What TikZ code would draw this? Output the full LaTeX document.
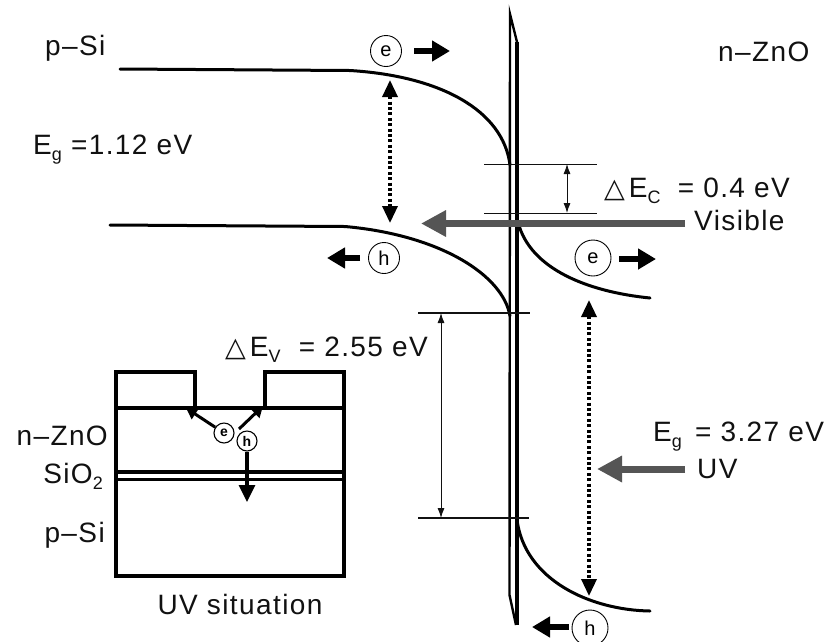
\documentclass[tikz,border=0pt]{standalone}
\usepackage{fontspec}
\setmainfont[LetterSpace=5]{Liberation Sans}
\newfontfamily\symfont{DejaVu Sans}
\usetikzlibrary{arrows.meta}
\definecolor{arrowgray}{HTML}{555555}
\definecolor{inkblack}{HTML}{111111}
\newcommand{\tri}{{\symfont\fontsize{27}{27}\selectfont △}\kern4pt}
\newcommand{\lowsub}[1]{\raisebox{-6pt}{\fontsize{18}{18}\selectfont #1}}
\newcommand{\gapfill}[1]{\kern#1\relax\ }
\tikzset{
  x=1pt,y=-1pt,
  lab/.style={inner sep=0pt,text=inkblack,font=\fontsize{28}{30}\selectfont},
  band/.style={draw=black,line width=3pt,line cap=round},
  thinline/.style={draw=inkblack,line width=0.9pt},
  dim/.style={draw=inkblack,line width=0.9pt,{Latex[length=10pt,width=7pt]}-{Latex[length=10pt,width=7pt]}},
  dotarrow/.style={draw=black,line width=3.4pt,dash pattern=on 3pt off 2.4pt,
    {Triangle[length=17pt,width=15pt,sep=0pt]}-{Triangle[length=17pt,width=15pt,sep=0pt]}},
  carrier/.style={circle,draw=black,line width=0.9pt,fill=white,inner sep=0pt,font=\fontsize{20}{20}\selectfont},
  bigc/.style={carrier,minimum size=36pt},
  midc/.style={carrier,minimum size=31pt},
  smallc/.style={carrier,minimum size=20pt,line width=1.1pt,font=\fontsize{14}{14}\selectfont\bfseries},
  move/.style={draw=black,line width=5.5pt,-{Triangle[length=18pt,width=20pt,sep=0pt]}},
  light/.style={draw=arrowgray,line width=7pt,-{Triangle[length=25pt,width=25pt,sep=0pt]}},
  device/.style={draw=black,line width=3.4pt},
  tiny/.style={draw=black,line width=3pt,-{Triangle[length=11pt,width=12pt,sep=0pt]}},
  hole/.style={draw=black,line width=3.2pt,-{Triangle[length=17pt,width=16pt,sep=0pt]}},
}
\begin{document}
\begin{tikzpicture}
\useasboundingbox[fill=white] (0,0) rectangle (829,641);

% band edges
\draw[band] (120,69) -- (350,70.5) .. controls (440,76) and (503,110) .. (510,165);
\draw[band] (110,225) -- (345,226.5) .. controls (440,235) and (503,275) .. (510,316);
\draw[band] (518,222) .. controls (530,270) and (590,292) .. (650,298);
\draw[band] (517,520) .. controls (525,580) and (590,610) .. (650,611);

% interface layer
\draw[draw=black,line width=2.4pt] (517,42) -- (510,14) -- (509.5,595) -- (516,625);
\draw[draw=black,line width=4.4pt] (517,42) -- (517,625);

% offsets
\coordinate (cbl) at (484,164); \coordinate (cbr) at (597,164);
\coordinate (cal) at (484,213); \coordinate (car) at (597,213);
\coordinate (cu) at (567,164); \coordinate (cd) at (567,213);
\draw[thinline] (cbl) -- (cbr);
\draw[thinline] (cal) -- (car);
\draw[dim] (cu) -- (cd);
\coordinate (vbl) at (418,313); \coordinate (vbr) at (530,313);
\coordinate (val) at (418,518); \coordinate (var) at (529,518);
\coordinate (vu) at (441,313); \coordinate (vd) at (441,518);
\draw[thinline,line width=1.2pt] (vbl) -- (vbr);
\draw[thinline,line width=1.2pt] (val) -- (var);
\draw[dim] (vu) -- (vd);

% gap arrows
\coordinate (gpt) at (390,80); \coordinate (gpb) at (390,223);
\draw[dotarrow] (gpt) -- (gpb);
\coordinate (gnt) at (589,300); \coordinate (gnb) at (589,596);
\draw[dotarrow] (gnt) -- (gnb);

% light
\coordinate (vs) at (685,223.5); \coordinate (ve) at (421,223.5);
\draw[light] (vs) -- (ve);
\coordinate (us) at (685,469); \coordinate (ue) at (597,469);
\draw[light] (us) -- (ue);

% carriers
\node[midc] (e1) at (386,51) {e};
\coordinate (e1s) at (414,51); \coordinate (e1a) at (450,51);
\draw[move] (e1s) -- (e1a);
\node[midc] (h1) at (384,258) {h};
\coordinate (h1s) at (360,258); \coordinate (h1a) at (327,258);
\draw[move] (h1s) -- (h1a);
\node[bigc] (e2) at (593,258) {e};
\coordinate (e2s) at (619,259); \coordinate (e2a) at (656,259);
\draw[move] (e2s) -- (e2a);
\node[bigc] (h2) at (590,628) {h};
\coordinate (h2s) at (569,627); \coordinate (h2a) at (532,627);
\draw[move] (h2s) -- (h2a);

% labels
\node[lab,anchor=west] (tpsi) at (45,48) {p–Si};
\node[lab,anchor=west] (tzno) at (718,52) {n–ZnO};
\node[lab,anchor=west] (tegp) at (33,150) {E\lowsub{g} =1.12 eV};
\node[lab,anchor=west] (tdec) at (604,191) {\tri E\lowsub{C}\gapfill{8pt}= 0.4 eV};
\node[lab,anchor=west] (tvis) at (694,220) {Visible};
\node[lab,anchor=west] (tdev) at (225,350) {\tri E\lowsub{V}\gapfill{9pt}= 2.55 eV};
\node[lab,anchor=west] (tegn) at (653,437) {E\lowsub{g}\gapfill{4pt}= 3.27 eV};
\node[lab,anchor=west] (tuv) at (697,469) {UV};

% inset device
\draw[device] (116,408) -- (116,372) -- (195,372) -- (195,408)
  (265,408) -- (265,372) -- (344,372) -- (344,408);
\draw[device] (116,408) -- (344,408);
\draw[device] (116,408) -- (116,576) -- (344,576) -- (344,408);
\draw[device] (116,472) -- (344,472);
\draw[device] (116,479.5) -- (344,479.5);

\node[smallc] (ie) at (224,433) {e};
\node[smallc] (ih) at (247,441) {h};
\coordinate (iea) at (186,408);
\coordinate (ihs) at (239,429);
\coordinate (iha) at (263,406);
\coordinate (ihb) at (247,502);
\draw[tiny] (ie) -- (iea);
\draw[tiny] (ihs) -- (iha);
\draw[hole] (ih) -- (ihb);

\node[lab,anchor=east] (tizno) at (108,436) {n–ZnO};
\node[lab,anchor=east] (tisio) at (103,476) {SiO\lowsub{2}};
\node[lab,anchor=east] (tipsi) at (105,535) {p–Si};
\node[lab] (tisit) at (240,604) {UV situation};
\end{tikzpicture}
\end{document}
